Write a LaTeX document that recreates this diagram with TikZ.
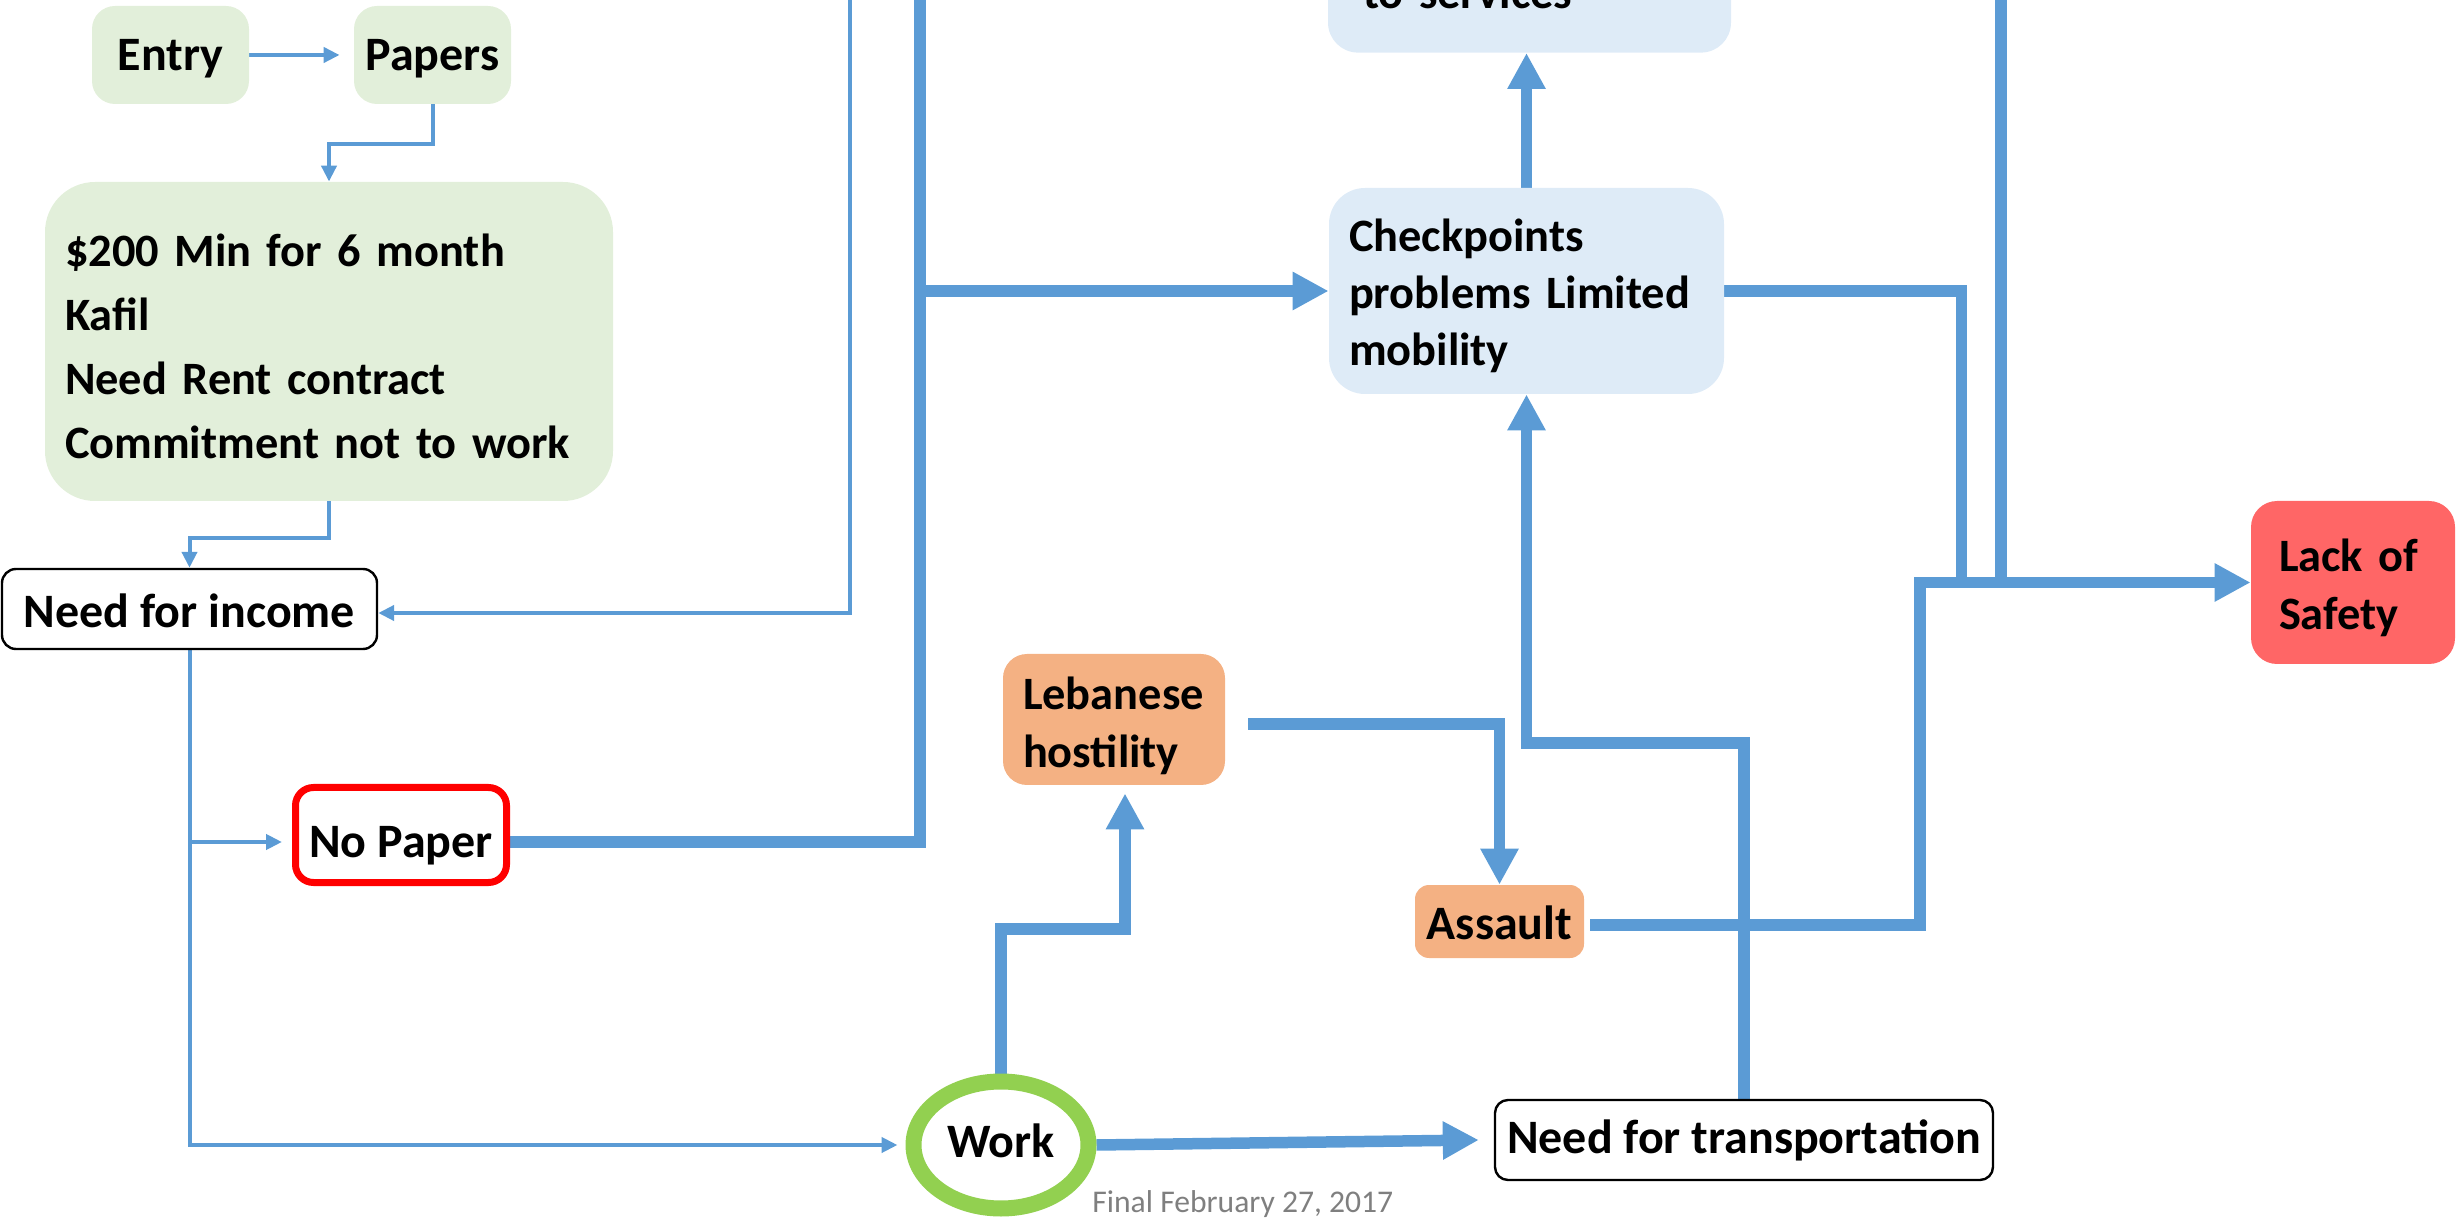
\documentclass[tikz,border=0pt]{standalone}
\usepackage{fontspec}
\setmainfont{Carlito}
\usetikzlibrary{arrows.meta,shapes.geometric,backgrounds}
\definecolor{arrblue}{HTML}{5B9BD5}
\definecolor{grnfill}{HTML}{E2EFDA}
\definecolor{bluefill}{HTML}{DEEBF7}
\definecolor{orgfill}{HTML}{F4B183}
\definecolor{redfill}{HTML}{FF6666}
\definecolor{workgreen}{HTML}{92D050}
\definecolor{datagray}{HTML}{7F7F7F}
\tikzset{
  lbl/.style={font=\fontsize{24}{29}\selectfont\bfseries, inner sep=0pt},
  lblm/.style={font=\fontsize{23.2}{29}\selectfont\bfseries, inner sep=0pt},
  greenbox/.style={lbl, fill=grnfill},
  bluebox/.style={lblm, fill=bluefill},
  orangebox/.style={lbl, fill=orgfill},
  outlinebox/.style={lbl, draw=black, line width=1.2pt, fill=white},
  thinln/.style={draw=arrblue, line width=2pt},
  thickln/.style={draw=arrblue, line width=5.75pt},
  thinarr/.style={thinln, -{Triangle[length=8pt,width=7.5pt]}},
  thickarr/.style={thickln, -{Triangle[length=18pt,width=18pt]}},
}
\begin{document}
\begin{tikzpicture}[x=0.5pt,y=-0.5pt]
\useasboundingbox (0,0) rectangle (2458,1218);
\clip (0,0) rectangle (2458,1218);

% nodes
\node[greenbox, minimum width=78.5pt, minimum height=49pt, rounded corners=11.5pt,
      text height=16pt, text depth=0pt] (entry) at (170.5,55) {Entry};
\node[greenbox, minimum width=78.5pt, minimum height=49pt, rounded corners=11.5pt,
      text height=16pt, text depth=0pt] (papers) at (432.5,55) {Papers};
\node[greenbox, font=\fontsize{23.2}{32}\selectfont\bfseries, minimum width=284pt, minimum height=159.5pt,
      rounded corners=25pt, inner xsep=10pt, text width=264pt, align=left,
      text height=17.5pt, text depth=92pt] (req) at (329,341.5)
      {\$200 Min for 6 month\\Kafil\\Need Rent contract\\Commitment not to work};
\node[outlinebox, minimum width=187.5pt, minimum height=40pt, rounded corners=7pt,
      text height=19pt, text depth=0pt] (nfi) at (189.5,609) {Need for income};
\node[lbl, draw=red, line width=3.5pt, fill=white, minimum width=105.5pt, minimum height=47.5pt,
      rounded corners=9pt, text height=22.5pt, text depth=0pt] (nopaper) at (401,835) {No Paper};
\node[lbl, ellipse, draw=workgreen, line width=8pt, fill=white, minimum width=87.5pt,
      minimum height=63.5pt, text height=12pt, text depth=0pt] (work) at (1001,1145) {Work};
\node[orangebox, font=\fontsize{23.2}{29}\selectfont\bfseries, minimum width=111pt, minimum height=65.5pt, rounded corners=12pt,
      inner xsep=10pt, text width=91pt, align=left, text height=17.5pt, text depth=27pt]
      (leb) at (1114,719.5) {Lebanese\\hostility};
\node[orangebox, minimum width=84.5pt, minimum height=36.5pt, rounded corners=7pt,
      text height=17.5pt, text depth=0pt] (assault) at (1499.5,921.5) {Assault};
\node[bluebox, font=\fontsize{23.2}{28.5}\selectfont\bfseries, minimum width=197.5pt, minimum height=103pt,
      rounded corners=18pt, inner xsep=10pt, text width=177.5pt, align=left,
      text height=19.5pt, text depth=58.5pt] (chk) at (1526.5,291)
      {Checkpoints\\problems Limited\\mobility};
\node[bluebox, anchor=south, minimum width=201.5pt, inner xsep=17.5pt, inner ysep=22pt,
      text width=166.5pt, align=left, text depth=0pt, rounded corners=15pt]
      (services) at (1529.5,53) {to services};
\node[lblm, fill=redfill, minimum width=102pt, minimum height=81.5pt, rounded corners=13pt,
      inner xsep=14pt, text width=74pt, align=left, text height=18pt, text depth=28.5pt]
      (safety) at (2353,582.5) {Lack of\\Safety};
\node[outlinebox, minimum width=249pt, minimum height=40pt, rounded corners=6.5pt,
      text height=13pt, text depth=0pt] (nft) at (1744,1140) {Need for transportation};
\node[anchor=base west, font=\fontsize{15.8}{19}\selectfont, text=datagray, inner sep=0pt]
      (date) at (1092,1212) {Final February 27, 2017};

% helper coordinates
\coordinate (t850) at (850,-10);
\coordinate (t920) at (920,-10);
\coordinate (t2001) at (2001,-10);
\coordinate (hub) at (1920,582.5);
\coordinate (npw) at ([yshift=-3.5pt]nopaper.west);
\coordinate (npe) at ([yshift=-3.5pt]nopaper.east);

% connectors
\begin{pgfonlayer}{background}
\draw[thinarr] (entry.east) -- ([xshift=-7pt]papers.west);
\draw[thinarr] (papers.south) -- ++(0,40) -| (req.north);
\draw[thinarr] (req.south) -- ++(0,37) -| (nfi.north);
\draw[thinarr] (t850) |- ([yshift=-2pt]nfi.east);
\draw[thinarr] (nfi.south) |- ([xshift=-4pt]work.west);
\draw[thinarr] (nfi.south |- npw) -- ([xshift=-5pt]npw);
\draw[thickln] (npe) -| (t920);
\draw[thickarr] (t920 |- chk.west) -- (chk.west);
\draw[thickarr] (chk.north) -- (chk.north |- services.south);
\draw[thickln] (chk.east) -- ++(237,0) -- ++(0,291.5);
\draw[thickln] (t2001) -- (t2001 |- safety.west);
\draw[thickarr] ([xshift=3pt,yshift=-1.75pt]assault.east) -| (hub) -- (safety.west);
\draw[thickarr] (nft.north) -- ++(0,-356) -| (chk.south);
\draw[thickarr] (work.north) -- ++(0,-144.5) -| ([xshift=5.5pt,yshift=-4pt]leb.south);
\draw[thickarr] ([xshift=11.5pt,yshift=-2.25pt]leb.east) -| (assault.north);
\draw[thickarr] (work.east) -- ([xshift=-7.5pt]nft.west);
\end{pgfonlayer}
\end{tikzpicture}
\end{document}
